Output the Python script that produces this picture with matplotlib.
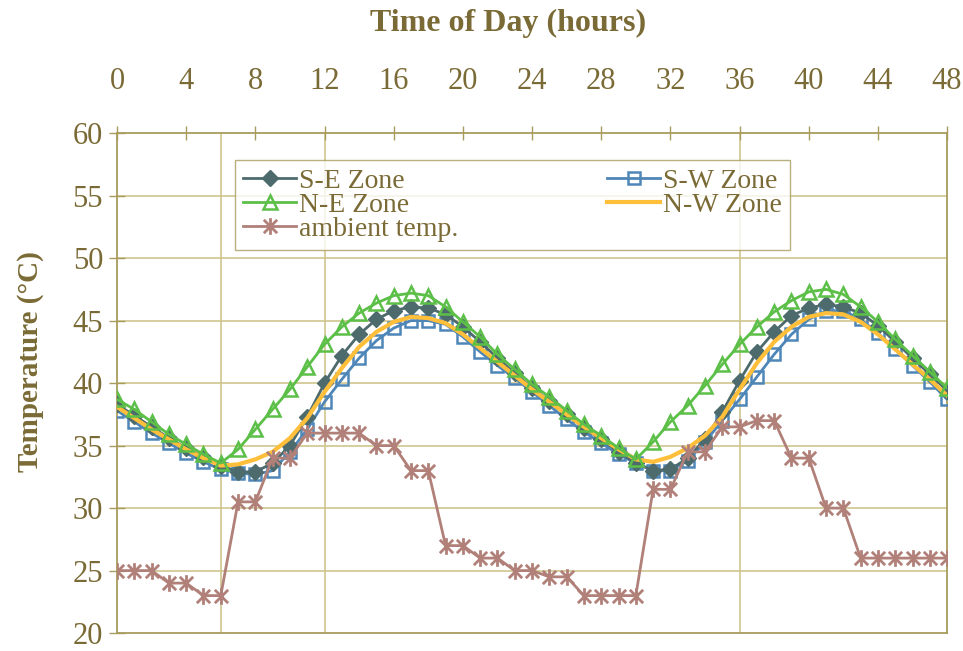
import matplotlib
matplotlib.use("Agg")
import matplotlib.pyplot as plt
from matplotlib.path import Path

# Hourly zone temperatures over two days
hours = list(range(49))

se_zone = [38.3, 37.4, 36.5, 35.6, 34.8, 34.1, 33.4, 32.9, 32.9, 33.6,
           35.0, 37.3, 40.0, 42.2, 43.9, 45.1, 45.8, 46.1, 46.0, 45.5,
           44.5, 43.3, 42.0, 40.8, 39.6, 38.6, 37.5, 36.4, 35.5, 34.5,
           33.6, 33.0, 33.1, 34.0, 35.5, 37.7, 40.2, 42.5, 44.1, 45.4,
           46.0, 46.3, 46.1, 45.6, 44.6, 43.3, 42.0, 40.7, 39.4]

sw_zone = [37.8, 36.9, 36.0, 35.2, 34.4, 33.7, 33.1, 32.8, 32.7, 33.0,
           34.5, 36.3, 38.5, 40.3, 42.0, 43.4, 44.4, 45.0, 45.0, 44.7,
           43.7, 42.5, 41.4, 40.4, 39.3, 38.2, 37.1, 36.1, 35.2, 34.3,
           33.6, 33.0, 33.0, 33.8, 35.3, 37.0, 38.7, 40.5, 42.3, 43.9,
           45.1, 45.8, 45.8, 45.1, 44.0, 42.7, 41.4, 40.1, 38.7]

ne_zone = [38.7, 37.9, 36.9, 35.9, 35.1, 34.3, 33.6, 34.7, 36.3, 37.9,
           39.5, 41.3, 43.1, 44.5, 45.6, 46.4, 47.0, 47.2, 47.0, 46.1,
           44.9, 43.7, 42.3, 41.1, 39.9, 38.9, 37.8, 36.7, 35.8, 34.8,
           33.9, 35.3, 36.9, 38.2, 39.8, 41.5, 43.1, 44.5, 45.7, 46.6,
           47.3, 47.5, 47.1, 46.1, 44.9, 43.5, 42.2, 40.9, 39.6]

nw_zone = [38.1, 37.2, 36.3, 35.5, 34.7, 34.0, 33.4, 33.5, 33.9, 34.5,
           35.6, 37.2, 39.3, 41.2, 42.9, 44.1, 44.9, 45.3, 45.2, 44.8,
           43.9, 42.8, 41.7, 40.6, 39.5, 38.5, 37.5, 36.5, 35.6, 34.7,
           33.9, 33.7, 34.1, 34.8, 35.8, 37.3, 39.5, 41.6, 43.3, 44.5,
           45.3, 45.6, 45.5, 44.9, 43.9, 42.7, 41.5, 40.3, 39.0]

ambient = [25, 25, 25, 24, 24, 23, 23, 30.5, 30.5, 34,
           34, 36, 36, 36, 36, 35, 35, 33, 33, 27,
           27, 26, 26, 25, 25, 24.5, 24.5, 23, 23, 23,
           23, 31.5, 31.5, 34.5, 34.5, 36.5, 36.5, 37, 37, 34,
           34, 30, 30, 26, 26, 26, 26, 26, 26]

x_ticks = list(range(0, 49, 4))
y_ticks = list(range(20, 61, 5))
v_grid_hours = [6, 12, 36]

TEXT = "#7a6a35"
FRAME = "#a89c5c"
GRID = "#cfc68e"
SERIF = "Liberation Serif"

# asterisk-style marker: an X crossed by a vertical bar
star = Path([(-1, -1), (1, 1), (-1, 1), (1, -1), (0, -1.25), (0, 1.25)],
            [Path.MOVETO, Path.LINETO, Path.MOVETO, Path.LINETO,
             Path.MOVETO, Path.LINETO])

fig = plt.figure(figsize=(9.63, 6.51), dpi=100)
ax = fig.add_axes([0.1215, 0.0275, 0.862, 0.768])
ax.set_xlim(0, 48)
ax.set_ylim(20, 60)

for y in y_ticks[1:-1]:
    ax.axhline(y, color=GRID, lw=1.2, zorder=0)
for h in v_grid_hours:
    ax.axvline(h, color=GRID, lw=1.2, zorder=0)

h_sw, = ax.plot(hours, sw_zone, color="#4f86b8", lw=2, marker="s", ms=9,
                mfc="none", mec="#4f86b8", mew=1.8, label="S-W Zone", zorder=3)
h_se, = ax.plot(hours, se_zone, color="#4d6b6d", lw=2, marker="D", ms=8,
                mfc="#4d6b6d", mec="#4d6b6d", label="S-E Zone", zorder=4)
h_nw, = ax.plot(hours, nw_zone, color="#ffbf3a", lw=3, label="N-W Zone", zorder=5)
h_ne, = ax.plot(hours, ne_zone, color="#5cbf48", lw=2, marker="^", ms=10,
                mfc="none", mec="#5cbf48", mew=1.8, label="N-E Zone", zorder=6)
h_amb, = ax.plot(hours, ambient, color="#b08079", lw=2, marker=star, ms=12,
                 mec="#b08079", mew=2, label="ambient temp.", zorder=7)

for side in ("top", "bottom", "left", "right"):
    ax.spines[side].set_color(FRAME)
    ax.spines[side].set_linewidth(1.3)

ax.xaxis.tick_top()
ax.set_xticks(x_ticks)
ax.set_yticks(y_ticks)
ax.tick_params(axis="x", direction="inout", length=10, width=1, color=FRAME,
               labelsize=22, labelcolor=TEXT, pad=22)
ax.tick_params(axis="y", direction="inout", length=12, width=1, color=FRAME,
               labelsize=22, labelcolor=TEXT, pad=4)
for lbl in ax.get_xticklabels() + ax.get_yticklabels():
    lbl.set_fontfamily(SERIF)

fig.text(0.528, 0.964, "Time of Day (hours)", ha="center", va="center",
         fontsize=23, fontweight="bold", color=TEXT, family=SERIF)
fig.text(0.032, 0.444, "Temperature (°C)", ha="center", va="center",
         rotation=90, fontsize=21, fontweight="bold", color=TEXT, family=SERIF)

leg = ax.legend(handles=[h_se, h_ne, h_amb, h_sw, h_nw], ncol=2,
                loc="upper left", bbox_to_anchor=(0.142, 0.777, 0.669, 0.169),
                mode="expand", frameon=True, fancybox=False,
                prop={"family": SERIF, "size": 20},
                handlelength=1.9, handletextpad=0.1, labelspacing=-0.05,
                borderpad=0.3, borderaxespad=0, columnspacing=1.0)
leg.get_frame().set_edgecolor(FRAME)
leg.get_frame().set_linewidth(1.0)
for t in leg.get_texts():
    t.set_color(TEXT)
leg.set_zorder(10)

fig.savefig("out.png", dpi=100, facecolor="white")
